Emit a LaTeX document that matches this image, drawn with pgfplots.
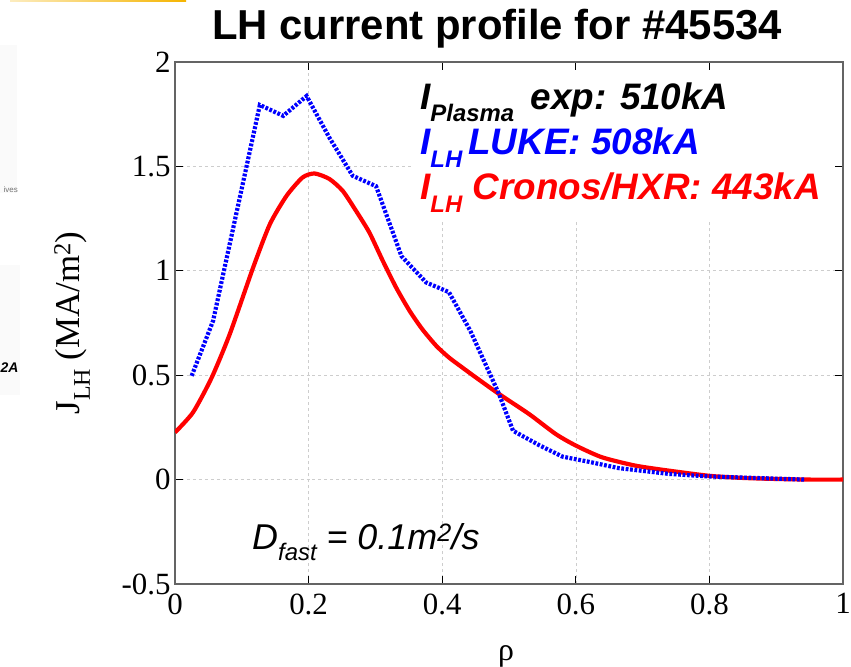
\documentclass[border=0pt]{standalone}
\usepackage{fontspec}
\setmainfont{Liberation Serif}
\newfontfamily\arial{Liberation Sans}
\usepackage{pgfplots}
\pgfplotsset{compat=1.18}
\definecolor{axgray}{RGB}{100,100,100}
\definecolor{gridgray}{RGB}{205,205,205}
\definecolor{ored}{RGB}{255,0,0}
\definecolor{oblue}{RGB}{0,0,255}
\definecolor{gold}{RGB}{245,180,0}
\pgfplotstableread{
rho J
0.000 0.226
0.027 0.322
0.055 0.489
0.082 0.697
0.117 1.016
0.142 1.223
0.167 1.359
0.191 1.447
0.209 1.466
0.231 1.440
0.251 1.383
0.271 1.287
0.291 1.183
0.311 1.048
0.331 0.920
0.351 0.809
0.370 0.721
0.391 0.641
0.410 0.585
0.430 0.537
0.450 0.490
0.485 0.410
0.530 0.314
0.570 0.218
0.600 0.163
0.639 0.107
0.689 0.067
0.739 0.043
0.800 0.018
0.850 0.008
0.900 0.003
0.950 0.000
1.000 0.000
}\cronos
\pgfplotstableread{
rho J
0.025 0.497
0.057 0.760
0.127 1.794
0.162 1.742
0.197 1.837
0.231 1.638
0.266 1.455
0.301 1.405
0.339 1.070
0.376 0.944
0.410 0.898
0.442 0.713
0.485 0.410
0.506 0.234
0.545 0.165
0.580 0.110
0.620 0.085
0.664 0.055
0.740 0.027
0.800 0.015
0.943 0.000
}\luke
\begin{document}
\begin{tikzpicture}[x=1bp,y=1bp]
\useasboundingbox (0,0) rectangle (851,667);
% remnants of the slide at the left
\shade[left color=gold!25, right color=gold] (10,665) rectangle (186,667);
\fill[black!2] (0,474) rectangle (17,622);
\fill[black!2] (0,272) rectangle (20,402);
\node[anchor=base east, inner sep=0, text=black!55, font=\arial\fontsize{8}{8}\selectfont] at (18,474) {ives};
\node[anchor=base west, inner sep=0, font=\arial\bfseries\itshape\fontsize{14}{14}\selectfont] at (0.5,294) {2A};
% grid layer
\begin{axis}[at={(175bp,83bp)}, anchor=south west, scale only axis,
  width=668bp, height=522bp, xmin=0, xmax=1, ymin=-0.5, ymax=2,
  xtick={0,0.2,0.4,0.6,0.8,1}, ytick={-0.5,0,0.5,1,1.5,2},
  xticklabels={}, yticklabels={}, major tick length=0pt,
  grid=major, major grid style={dashed, gridgray, line width=0.6bp},
  axis line style={draw=none}]
\fill[white] (axis cs:0.355,1.24) rectangle (axis cs:0.996,1.995);
\end{axis}
% main axis
\begin{axis}[at={(175bp,83bp)}, anchor=south west, scale only axis,
  width=668bp, height=522bp, xmin=0, xmax=1, ymin=-0.5, ymax=2,
  xtick={0,0.2,0.4,0.6,0.8,1}, ytick={-0.5,0,0.5,1,1.5,2},
  xticklabels={0,0.2,0.4,0.6,0.8,1}, yticklabels={-0.5,0,0.5,1,1.5,2},
  tick align=inside, major tick length=8bp,
  every tick/.style={black, line width=1bp},
  axis line style={axgray, line width=1.5bp},
  tick label style={font=\fontsize{31}{31}\selectfont},
  xticklabel style={yshift=-6bp}, yticklabel style={xshift=-1bp}]
\addplot[ored, line width=4.2bp, smooth, tension=0.4] table[x=rho,y=J] {\cronos};
\addplot[oblue, line width=4.2bp, dash pattern=on 2.8bp off 1.6bp] table[x=rho,y=J] {\luke};
\end{axis}
% texts
\node[anchor=base, inner sep=0, font=\arial\bfseries\fontsize{42}{42}\selectfont] at (497,627) {LH current profile for \#45534};
\node[rotate=90, font=\fontsize{35}{35}\selectfont] at (72,344) {J\raisebox{-0.3em}{\fontsize{24}{24}\selectfont LH} (MA/m\textsuperscript{2})};
\node[font=\fontsize{32}{32}\selectfont] at (506,11) {ρ};
\node[anchor=base west, inner sep=0, font=\arial\bfseries\itshape\fontsize{37}{37}\selectfont] at (420,557) {I\raisebox{-0.3em}{\fontsize{24}{24}\selectfont Plasma}\, exp: 510kA};
\node[anchor=base west, inner sep=0, text=oblue, font=\arial\bfseries\itshape\fontsize{37}{37}\selectfont] at (420,512) {I\raisebox{-0.35em}{\fontsize{24}{24}\selectfont LH}\,LUKE: 508kA};
\node[anchor=base west, inner sep=0, text=ored, font=\arial\bfseries\itshape\fontsize{37}{37}\selectfont] at (420,467) {I\raisebox{-0.35em}{\fontsize{24}{24}\selectfont LH} Cronos/HXR: 443kA};
\node[anchor=base west, inner sep=0, font=\arial\itshape\fontsize{36}{36}\selectfont] at (252,117) {D\raisebox{-0.3em}{\fontsize{24}{24}\selectfont fast} = 0.1m\textsuperscript{2}/s};
\end{tikzpicture}
\end{document}
